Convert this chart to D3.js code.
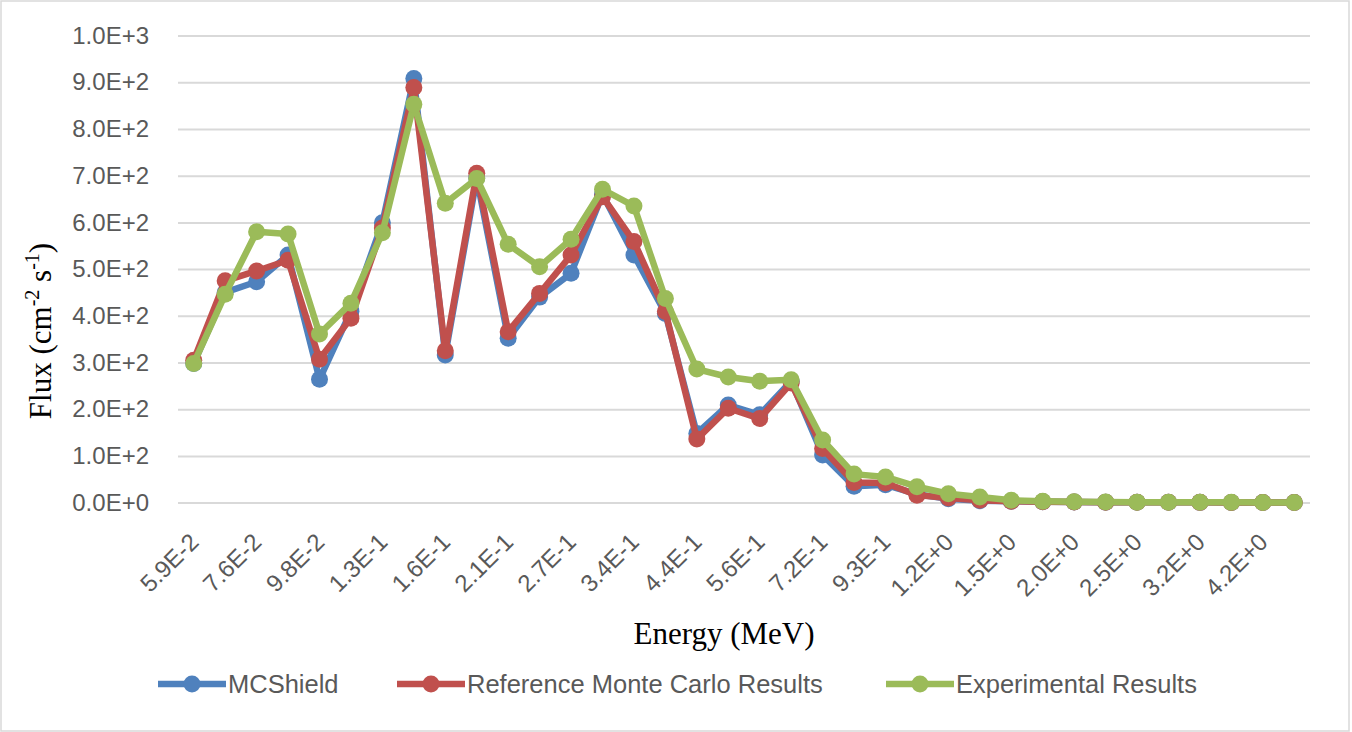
<!DOCTYPE html>
<html>
<head>
<meta charset="utf-8">
<script src="https://cdnjs.cloudflare.com/ajax/libs/d3/7.8.5/d3.min.js"></script>
<style>
  body { margin: 0; background: #fff; }
  svg { display: block; }
</style>
</head>
<body>
<script>
// energy bins (MeV)
var energies = ["5.9E-2","6.7E-2","7.6E-2","8.6E-2","9.8E-2","1.1E-1","1.3E-1","1.4E-1","1.6E-1","1.8E-1",
                "2.1E-1","2.4E-1","2.7E-1","3.0E-1","3.4E-1","3.9E-1","4.4E-1","5.0E-1","5.6E-1","6.4E-1",
                "7.2E-1","8.2E-1","9.3E-1","1.1E+0","1.2E+0","1.4E+0","1.5E+0","1.7E+0","2.0E+0","2.2E+0",
                "2.5E+0","2.8E+0","3.2E+0","3.7E+0","4.2E+0","4.7E+0"];

var mcshield = [298,450,473,530,264,410,599,908,316,695,352,440,491,660,530,405,148,209,188,260,
                102,35,38,18,8,4,3,2,1.5,1,0.8,0.6,0.5,0.4,0.3,0.2];
var refMC    = [305,475,496,519,307,395,588,889,325,705,366,448,530,655,559,409,136,202,180,256,
                116,43,42,16,10,5,3,2,1.5,1,0.8,0.6,0.5,0.4,0.3,0.2];
var expt     = [298,446,580,575,361,427,578,853,641,694,553,505,564,671,635,437,286,269,260,263,
                134,61,55,34,19,12,5,3,2,1.5,1,0.8,0.6,0.5,0.4,0.3];

var yTicks = [0,100,200,300,400,500,600,700,800,900,1000];

var seriesNames  = ["MCShield", "Reference Monte Carlo Results", "Experimental Results"];
var seriesColors = ["#4f81bd", "#c0504d", "#9bbb59"];
var seriesValues = [mcshield, refMC, expt];

var width = 1352, height = 732;
var plotLeft = 178, plotRight = 1310, plotTop = 35.6, plotBottom = 502.6;

var svg = d3.select("body").append("svg")
    .attr("width", width)
    .attr("height", height);

svg.append("rect")
    .attr("x", 1).attr("y", 1)
    .attr("width", width - 4).attr("height", height - 2)
    .attr("fill", "#fff")
    .attr("stroke", "#d9d9d9")
    .attr("stroke-width", 1.5);

var x = d3.scalePoint().domain(energies).range([plotLeft, plotRight]).padding(0.5);
var y = d3.scaleLinear().domain([0, 1000]).range([plotBottom, plotTop]);

function sci(d) { return d.toExponential(1).toUpperCase(); }

// y axis + gridlines
var yAxis = svg.append("g")
    .attr("transform", "translate(" + plotLeft + ",0)")
    .call(d3.axisLeft(y).tickValues(yTicks).tickFormat(sci)
          .tickSizeInner(-(plotRight - plotLeft)).tickSizeOuter(0).tickPadding(29));
yAxis.select(".domain").remove();
yAxis.selectAll("line").attr("stroke", "#d9d9d9").attr("stroke-width", 2);
yAxis.selectAll("text")
    .attr("fill", "#595959")
    .style("font-family", "'Liberation Sans', Arial, sans-serif")
    .style("font-size", "24px");

// x axis labels, every other bin
var xAxis = svg.append("g")
    .attr("transform", "translate(0," + plotBottom + ")")
    .call(d3.axisBottom(x).tickValues(energies.filter(function(d, i) { return i % 2 === 0; }))
          .tickSize(0));
xAxis.select(".domain").remove();
xAxis.selectAll("text")
    .attr("x", 0).attr("y", 0).attr("dy", "0.35em")
    .attr("transform", "translate(0,35) rotate(-45)")
    .attr("text-anchor", "end")
    .attr("fill", "#595959")
    .style("font-family", "'Liberation Sans', Arial, sans-serif")
    .style("font-size", "24px");

// series
var line = d3.line()
    .x(function(d, i) { return x(energies[i]); })
    .y(function(d) { return y(d); });

seriesValues.forEach(function(vals, s) {
  var g = svg.append("g");
  g.append("path")
      .datum(vals)
      .attr("d", line)
      .attr("fill", "none")
      .attr("stroke", seriesColors[s])
      .attr("stroke-width", 6.5)
      .attr("stroke-linejoin", "round");
  g.selectAll("circle")
      .data(vals)
      .enter().append("circle")
      .attr("cx", function(d, i) { return x(energies[i]); })
      .attr("cy", function(d) { return y(d); })
      .attr("r", 8.5)
      .attr("fill", seriesColors[s]);
});

// axis titles
svg.append("text")
    .attr("x", 724).attr("y", 644)
    .attr("text-anchor", "middle")
    .style("font-family", "'Liberation Serif', 'Times New Roman', serif")
    .style("font-size", "31px")
    .text("Energy (MeV)");

var yt = svg.append("text")
    .attr("transform", "translate(51,331) rotate(-90)")
    .attr("text-anchor", "middle")
    .style("font-family", "'Liberation Serif', 'Times New Roman', serif")
    .style("font-size", "31px");
yt.append("tspan").text("Flux (cm");
yt.append("tspan").attr("dy", -12).style("font-size", "20px").text("-2");
yt.append("tspan").attr("dy", 12).text(" s");
yt.append("tspan").attr("dy", -12).style("font-size", "20px").text("-1");
yt.append("tspan").attr("dy", 12).text(")");

// legend
var legendX = [158, 397, 886];
var legend = svg.selectAll(".legend")
    .data(seriesNames)
    .enter().append("g")
    .attr("class", "legend")
    .attr("transform", function(d, i) { return "translate(" + legendX[i] + ",684)"; });
legend.append("line")
    .attr("x1", 0).attr("x2", 68)
    .attr("stroke", function(d, i) { return seriesColors[i]; })
    .attr("stroke-width", 6.5);
legend.append("circle")
    .attr("cx", 34).attr("r", 8.5)
    .attr("fill", function(d, i) { return seriesColors[i]; });
legend.append("text")
    .attr("x", 70).attr("dy", "0.35em")
    .attr("fill", "#595959")
    .style("font-family", "'Liberation Sans', Arial, sans-serif")
    .style("font-size", "25.5px")
    .text(function(d) { return d; });
</script>
</body>
</html>
